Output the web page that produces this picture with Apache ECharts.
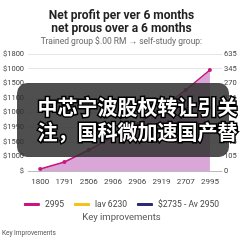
<!DOCTYPE html>
<html>
<head>
<meta charset="utf-8">
<script src="https://cdn.jsdelivr.net/npm/echarts@6/dist/echarts.min.js"></script>
<style>
  html, body { margin: 0; padding: 0; background: #fff; }
  #chart { width: 243px; height: 243px; }
</style>
</head>
<body>
<div id="chart"></div>
<script>
// chart data
var categories = ['1800', '1791', '2506', '2906', '2906', '2919', '2707', '2995'];
var profitValues = [31, 138, 323, 523, 723, 969, 1246, 1554];
var lavValues = [];
var avValues = [];
var leftTicks = ['$', '$1000', '$1500', '$1990', '$1000', '$1100', '$1500', '$1000', '$1800'];
var rightTicks = ['0', '105', '115', '125', '145', '156', '270', '345', '635'];
var seriesNames = ['2995', 'lav 6230', '$2735 - Av 2950'];

var font = 'Roboto, "Noto Sans", sans-serif';
var cjk = '"Noto Sans CJK SC", sans-serif';

var option = {
  animation: false,
  title: [{
    text: 'Net profit per ver 6 months\nnet prous over a 6 months',
    subtext: 'Trained group $.00 RM \u2192 self-study group:',
    left: 'center',
    top: 4,
    itemGap: 2,
    textStyle: { fontSize: 12, fontWeight: 'bold', color: '#222', lineHeight: 13, fontFamily: font },
    subtextStyle: { fontSize: 8.5, color: '#666', fontFamily: font }
  }, {
    text: 'Key improvements',
    left: 'center',
    top: 208,
    textStyle: { fontSize: 9.5, fontWeight: 'normal', color: '#555', fontFamily: font }
  }, {
    text: 'Key Improvements',
    left: -3,
    top: 225,
    textStyle: { fontSize: 6.5, fontWeight: 'normal', color: '#555', fontFamily: font }
  }],
  legend: {
    top: 195,
    left: 'center',
    itemWidth: 16,
    itemHeight: 3,
    itemGap: 10,
    icon: 'roundRect',
    textStyle: { fontSize: 8.5, color: '#444', fontFamily: font },
    data: seriesNames
  },
  grid: { left: 26, right: 21, top: 54, bottom: 72 },
  xAxis: {
    type: 'category',
    data: categories,
    boundaryGap: true,
    axisLine: { lineStyle: { color: '#bbb' } },
    axisTick: { alignWithLabel: true, length: 3, lineStyle: { color: '#999' } },
    axisLabel: { fontSize: 8, color: '#444', margin: 7, fontFamily: font }
  },
  yAxis: [{
    type: 'value',
    min: 0,
    max: 1800,
    interval: 225,
    axisLine: { show: false },
    axisTick: { show: false },
    splitLine: { lineStyle: { color: '#e6e6e6' } },
    axisLabel: {
      fontSize: 7.5, color: '#444', margin: 4, fontFamily: font,
      formatter: function (v) { return leftTicks[Math.round(v / 225)]; }
    }
  }, {
    type: 'value',
    min: 0,
    max: 8,
    interval: 1,
    axisLine: { show: false },
    axisTick: { show: false },
    splitLine: { show: false },
    axisLabel: {
      fontSize: 7.5, color: '#444', margin: 2, fontFamily: font,
      formatter: function (v) { return rightTicks[Math.round(v)]; }
    }
  }],
  series: [{
    name: seriesNames[0],
    type: 'line',
    data: profitValues,
    symbol: 'circle',
    symbolSize: 4,
    itemStyle: { color: '#c8157f' },
    lineStyle: { color: '#c8157f', width: 1.5 },
    areaStyle: { color: '#d9a6d7', opacity: 1 }
  }, {
    name: seriesNames[1],
    type: 'line',
    data: lavValues,
    itemStyle: { color: '#f2c417' }
  }, {
    name: seriesNames[2],
    type: 'line',
    data: avValues,
    itemStyle: { color: '#2d2a72' }
  }],
  graphic: [{
    type: 'rect',
    left: 17,
    top: 83,
    shape: { width: 212, height: 74, r: 10 },
    style: { fill: 'rgba(48,48,48,0.85)' },
    z: 100
  }, {
    type: 'text',
    left: 36,
    top: 96,
    style: {
      text: '中芯宁波股权转让引关',
      font: 'bold 20px ' + cjk,
      fill: '#fff',
      stroke: '#000',
      lineWidth: 3
    },
    z: 101
  }, {
    type: 'text',
    left: 36,
    top: 121,
    style: {
      text: '注，国科微加速国产替',
      font: 'bold 20px ' + cjk,
      fill: '#fff',
      stroke: '#000',
      lineWidth: 3
    },
    z: 101
  }]
};

var chart = echarts.init(document.getElementById('chart'));
chart.setOption(option);
</script>
</body>
</html>
